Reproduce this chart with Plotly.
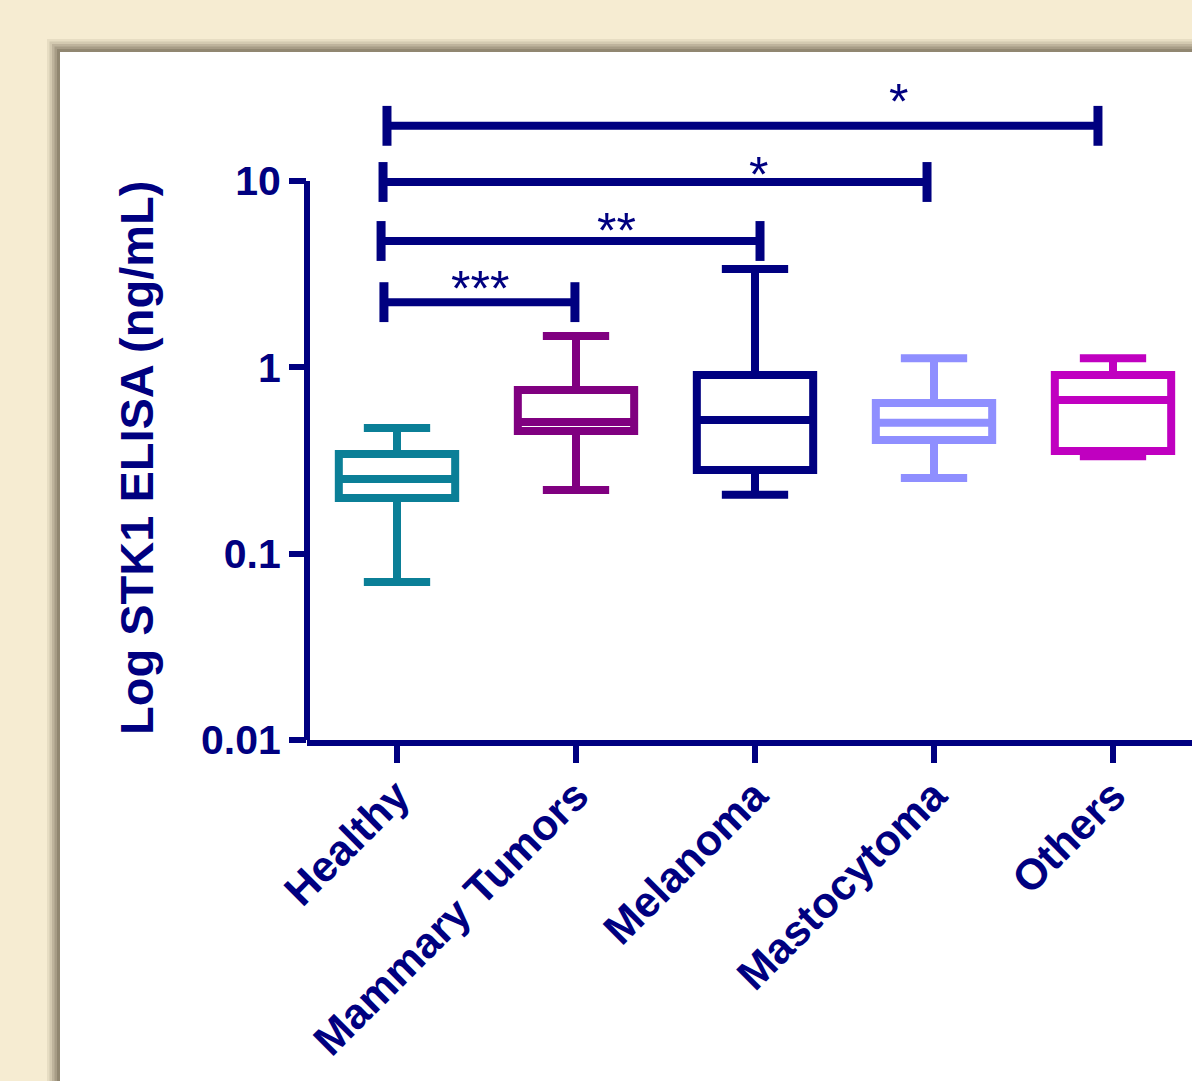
import numpy as np
import plotly.graph_objects as go

# ---------------- data ----------------
categories = ["Healthy", "Mammary Tumors", "Melanoma", "Mastocytoma", "Others"]
lower_whisker = [0.0705, 0.220, 0.207, 0.255, 0.334]
q1_values     = [0.199, 0.456, 0.281, 0.408, 0.356]
medians       = [0.252, 0.509, 0.522, 0.504, 0.668]
q3_values     = [0.343, 0.757, 0.910, 0.644, 0.910]
upper_whisker = [0.473, 1.475, 3.370, 1.120, 1.120]
box_colors    = ["#0B7F97", "#800080", "#000080", "#8F8FFF", "#C000C0"]

y_tick_vals = [0.01, 0.1, 1, 10]
y_tick_text = ["0.01", "0.1", "1", "10"]

# significance brackets: left/right (category index), height (ng/mL), label
bracket_left   = [-0.056, -0.078, -0.089, -0.073]
bracket_right  = [3.916, 2.961, 2.028, 0.994]
bracket_height = [19.8, 9.89, 4.77, 2.24]
bracket_label  = ["*", "*", "**", "***"]
label_x        = [2.80, 2.02, 1.229, 0.464]
label_offset_px = [30, 13, 16, 19]

NAVY = "#000080"
FONT = "Liberation Sans"

fig = go.Figure()
for i, cat in enumerate(categories):
    fig.add_trace(go.Box(
        x=[cat], q1=[q1_values[i]], median=[medians[i]], q3=[q3_values[i]],
        lowerfence=[lower_whisker[i]], upperfence=[upper_whisker[i]],
        name=cat, width=0.65, whiskerwidth=0.57,
        line=dict(color=box_colors[i], width=8),
        fillcolor="white", boxpoints=False, showlegend=False,
        hoverinfo="skip",
    ))

# ---------------- layout geometry ----------------
W, H = 1192, 1081
L, R, T, B = 307, 0, 80, 341
plot_w, plot_h = W - L - R, H - T - B
decade_px = 186.3
y_top = -2 + plot_h / decade_px
cat_px = 179.0
x_left = -90.0 / cat_px
x_right = x_left + plot_w / cat_px

def px_to_paper_x(px):
    return (px - L) / plot_w

def py_to_paper_y(py):
    return (H - B - py) / plot_h

shapes = []
# background panel shadow (layered soft edges)
for k, alpha in enumerate([0.10, 0.14, 0.18, 0.24, 0.30]):
    off = 13 - k * 2.5
    shapes.append(dict(type="rect", xref="paper", yref="paper", layer="below",
                       x0=px_to_paper_x(60 - off), x1=px_to_paper_x(W + 50),
                       y0=py_to_paper_y(H + 50), y1=py_to_paper_y(52 - off),
                       line=dict(width=0), fillcolor=f"rgba(95,85,65,{alpha})"))
# white panel
shapes.append(dict(type="rect", xref="paper", yref="paper", layer="below",
                   x0=px_to_paper_x(60), x1=px_to_paper_x(W + 50),
                   y0=py_to_paper_y(H + 50), y1=py_to_paper_y(52),
                   line=dict(width=0), fillcolor="white"))

# y axis line from 0.01 to 10 (shapes on log axes take data values)
shapes.append(dict(type="line", xref="paper", yref="y", x0=0, x1=0,
                   y0=y_tick_vals[0], y1=y_tick_vals[-1],
                   line=dict(color=NAVY, width=6)))

# brackets
cap = 10 ** 0.107  # half cap height factor
annotations = []
for xl, xr, yh, lab, lx, off in zip(bracket_left, bracket_right, bracket_height,
                                     bracket_label, label_x, label_offset_px):
    shapes.append(dict(type="line", xref="x", yref="y", x0=xl, x1=xr, y0=yh, y1=yh,
                       line=dict(color=NAVY, width=8)))
    for xc in (xl, xr):
        shapes.append(dict(type="line", xref="x", yref="y", x0=xc, x1=xc,
                           y0=yh / cap, y1=yh * cap,
                           line=dict(color=NAVY, width=9)))
    # annotations on log axes take log10 values
    annotations.append(dict(x=lx, y=np.log10(yh), xref="x", yref="y", text=lab,
                            showarrow=False, xanchor="center", yanchor="middle",
                            yshift=off - 6,
                            font=dict(family=FONT, size=50, color=NAVY)))

# y-axis title
annotations.append(dict(x=0, y=py_to_paper_y(458), xref="paper", yref="paper",
                        text="Log STK1 ELISA (ng/mL)", textangle=-90,
                        showarrow=False, xanchor="center", yanchor="middle",
                        xshift=136 - L,
                        font=dict(family=FONT, size=47, color=NAVY, weight="bold")))

fig.update_layout(
    width=W, height=H,
    margin=dict(l=L, r=R, t=T, b=B, pad=0),
    paper_bgcolor="#F6ECD2",
    plot_bgcolor="rgba(0,0,0,0)",
    boxmode="overlay",
    shapes=shapes,
    annotations=annotations,
    xaxis=dict(
        type="category", categoryorder="array", categoryarray=categories,
        range=[x_left, x_right], showgrid=False, zeroline=False,
        showline=True, linecolor=NAVY, linewidth=6,
        ticks="outside", ticklen=17, tickwidth=6, tickcolor=NAVY,
        tickangle=-45, automargin=False, ticklabelstandoff=-10,
        tickfont=dict(family=FONT, size=43, color=NAVY, weight="bold"),
    ),
    yaxis=dict(
        type="log", range=[-2, y_top], showgrid=False, zeroline=False,
        showline=False, tickvals=y_tick_vals, ticktext=y_tick_text,
        ticks="outside", ticklen=17, tickwidth=6, tickcolor=NAVY,
        automargin=False,
        tickfont=dict(family=FONT, size=41, color=NAVY, weight="bold"),
    ),
)

fig.write_html("out.html", config={"displayModeBar": False},
               post_script="document.body.style.margin='0';document.body.style.overflow='hidden';")
